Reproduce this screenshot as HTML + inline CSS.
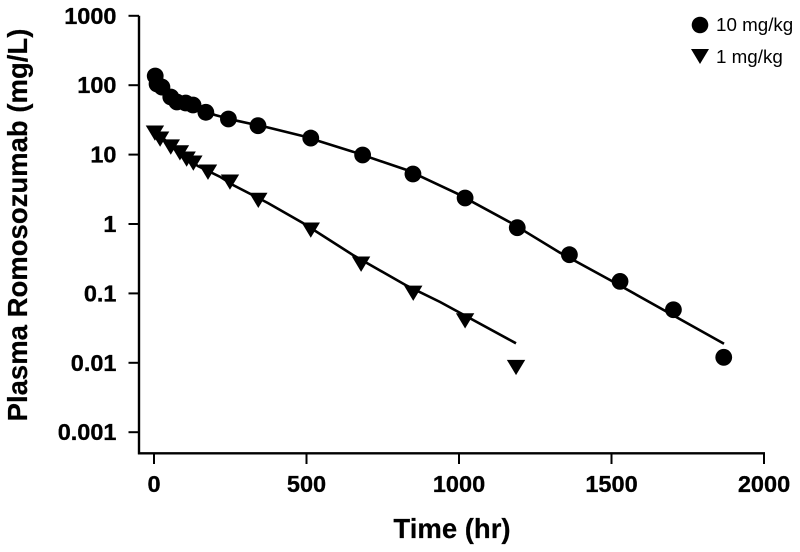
<!DOCTYPE html>
<html lang="en">
<head>
<meta charset="utf-8">
<title>Plasma Romosozumab vs Time</title>
<style>
  html, body { margin: 0; padding: 0; background: #fff; }
  body { width: 800px; height: 552px; overflow: hidden; }
  svg { display: block; font-family: "Liberation Sans", sans-serif; }
  .tick-label { font-size: 23.5px; font-weight: bold; fill: #000; stroke: #000; stroke-width: 0.3px; }
  .axis-title { font-size: 27.5px; font-weight: bold; fill: #000; stroke: #000; stroke-width: 0.2px; }
  .legend-label { font-size: 18.8px; fill: #000; }
</style>
</head>
<body>
<svg id="chart" width="800" height="552" viewBox="0 0 800 552" xmlns="http://www.w3.org/2000/svg">
  <rect width="800" height="552" fill="#fff"/>
  <text class="axis-title" transform="translate(27,225) rotate(-90)" text-anchor="middle">Plasma Romosozumab (mg/L)</text>
  <text class="axis-title" x="452" y="538" text-anchor="middle">Time (hr)</text>
  <g>
    <circle cx="700" cy="25" r="8.3" fill="#000"/>
    <text class="legend-label" x="716" y="31">10 mg/kg</text>
    <polygon points="691,49 709,49 700,64" fill="#000"/>
    <text class="legend-label" x="716" y="63">1 mg/kg</text>
  </g>
</svg>
<script>
const xTicks = [0, 500, 1000, 1500, 2000];
const yTicks = [1000, 100, 10, 1, 0.1, 0.01, 0.001];
const yTickLabels = ["1000", "100", "10", "1", "0.1", "0.01", "0.001"];

const highDoseTimes = [4, 10, 26, 55, 75, 104, 128, 170, 244, 341, 514, 684, 849, 1020, 1191, 1362, 1528, 1703, 1868];
const highDoseValues = [135.7, 104, 94, 67.6, 57.3, 55.4, 51.8, 40.7, 32.6, 26.1, 17.3, 9.87, 5.25, 2.37, 0.885, 0.361, 0.149, 0.0582, 0.012];
const lowDoseTimes = [3, 20, 55, 85, 107, 129, 177, 249, 342, 514, 679, 850, 1020, 1187];
const lowDoseValues = [20.5, 16.8, 12.9, 10.65, 8.64, 7.57, 5.61, 4.03, 2.2, 0.82, 0.265, 0.101, 0.0404, 0.0086];

const highFitTimes = [0, 36, 102, 151, 200, 271, 374, 489, 652, 829, 992, 1167, 1331, 1495, 1869];
const highFitValues = [165.6, 85, 55.4, 45.4, 37.2, 30.8, 24.6, 18.5, 11, 6, 2.77, 1.06, 0.386, 0.156, 0.0188];
const lowFitTimes = [0, 69, 144, 216, 259, 374, 489, 652, 829, 938, 1187];
const lowFitValues = [22.6, 12, 6.85, 4.8, 3.65, 2, 1.03, 0.358, 0.129, 0.0752, 0.0191];

const SVG_NS = "http://www.w3.org/2000/svg";
const svg = document.getElementById("chart");

function xScale(t) { return 154 + t * 0.305; }
function yScale(v) { return 224 - Math.log10(v) * 69.4; }

function make(tag, attrs) {
  const el = document.createElementNS(SVG_NS, tag);
  for (const k in attrs) el.setAttribute(k, attrs[k]);
  return el;
}

// axis spines
const ySpine = make("line", { x1: 139, x2: 139, y1: 15.7, y2: 454.4, stroke: "#000", "stroke-width": 2.4 });


svg.appendChild(ySpine);

const xSpine = make("line", { x1: 138, x2: xScale(2000) + 1, y1: 453.3, y2: 453.3, stroke: "#000", "stroke-width": 2.4 });


svg.appendChild(xSpine);

// y ticks
yTicks.forEach(function (v, i) {
  const y = yScale(v);
  const tick = make("line", { x1: 128.5, x2: 139, y1: y, y2: y, stroke: "#000", "stroke-width": 2 });
  
  
  svg.appendChild(tick);
  const label = make("text", { x: 116.5, y: y + 8, "text-anchor": "end", "class": "tick-label" });
  
  
  label.textContent = yTickLabels[i];
  svg.appendChild(label);
});

// x ticks
xTicks.forEach(function (t) {
  const x = xScale(t);
  const tick = make("line", { x1: x, x2: x, y1: 453.3, y2: 464, stroke: "#000", "stroke-width": 2 });
  
  
  svg.appendChild(tick);
  const label = make("text", { x: x, y: 492, "text-anchor": "middle", "class": "tick-label" });
  
  
  label.textContent = String(t);
  svg.appendChild(label);
});

function linePoints(times, values) {
  return times.map(function (t, i) { return xScale(t).toFixed(1) + "," + yScale(values[i]).toFixed(1); }).join(" ");
}

// fitted lines
const highLine = make("polyline", { points: linePoints(highFitTimes, highFitValues), fill: "none", stroke: "#000", "stroke-width": 2.6 });


svg.appendChild(highLine);

const lowLine = make("polyline", { points: linePoints(lowFitTimes, lowFitValues), fill: "none", stroke: "#000", "stroke-width": 2.6 });


svg.appendChild(lowLine);

// observed points
highDoseTimes.forEach(function (t, i) {
  const c = make("circle", { cx: xScale(t), cy: yScale(highDoseValues[i]), r: 8.4, fill: "#000" });
  
  
  svg.appendChild(c);
});

lowDoseTimes.forEach(function (t, i) {
  const x = xScale(t), y = yScale(lowDoseValues[i]);
  const pts = (x - 9.2) + "," + (y - 7.5) + " " + (x + 9.2) + "," + (y - 7.5) + " " + x + "," + (y + 7.8);
  const p = make("polygon", { points: pts, fill: "#000" });
  
  
  svg.appendChild(p);
});
</script>
</body>
</html>
